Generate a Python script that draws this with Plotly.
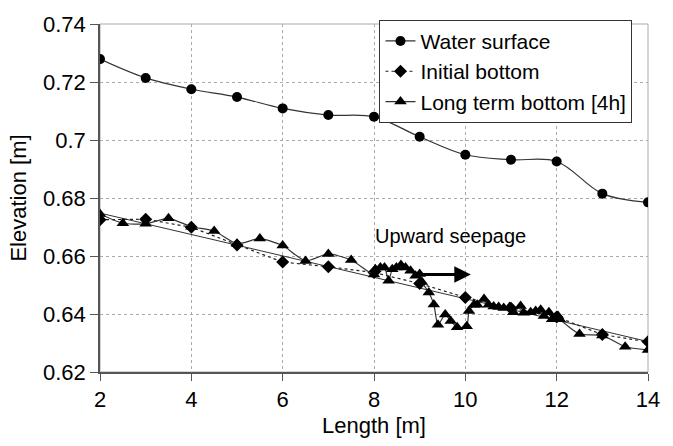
import plotly.graph_objects as go

# ---------------- data ----------------
ws_x = [2, 3, 4, 5, 6, 7, 8, 9, 10, 11, 12, 13, 14]
ws_y = [0.7279, 0.7214, 0.7175, 0.7148, 0.7109, 0.7086, 0.7080, 0.7011,
        0.6949, 0.6932, 0.6926, 0.6815, 0.6785]

ib_x = [2, 3, 4, 5, 6, 7, 8, 9, 10, 11, 12, 13, 14]
ib_y = [0.6725, 0.6727, 0.6699, 0.6638, 0.6579, 0.6563, 0.6543, 0.6505,
        0.6457, 0.6420, 0.6390, 0.6329, 0.6304]

lt_x = [2.0, 2.5, 3.0, 3.5, 4.0, 4.5, 5.0, 5.5, 6.0, 6.5, 7.0, 7.5,
        8.0, 8.03, 8.14, 8.23, 8.32, 8.4, 8.49, 8.59, 8.69, 8.8, 8.91,
        9.0, 9.05, 9.2, 9.31, 9.4, 9.56, 9.68, 9.82, 10.03, 10.08, 10.19,
        10.26, 10.41, 10.51, 10.62, 10.73, 10.84, 10.97, 11.05, 11.21,
        11.28, 11.43, 11.54, 11.65, 11.72, 11.83, 11.9, 12.03, 12.07,
        12.5, 13.0, 13.5, 14.0]
lt_y = [0.6745, 0.6713, 0.6711, 0.6730, 0.6701, 0.6686, 0.6642, 0.6660,
        0.6636, 0.6583, 0.6607, 0.6586,
        0.6536, 0.6554, 0.6560, 0.6560, 0.6515, 0.6554, 0.6560, 0.6569,
        0.6560, 0.6549, 0.6532,
        0.6538, 0.6510, 0.6474, 0.6433, 0.6363, 0.6398, 0.6376, 0.6354,
        0.6358, 0.6410, 0.6432,
        0.6432, 0.6452, 0.6432, 0.6426, 0.6424, 0.6421, 0.6424, 0.6406,
        0.6428, 0.6404, 0.6406, 0.6410, 0.6415, 0.6393, 0.6406, 0.6382,
        0.6393, 0.6382,
        0.6331, 0.6326, 0.6287, 0.6276]

trend_x = [2, 14]
trend_y = [0.6748, 0.6305]

x_ticks = [2, 4, 6, 8, 10, 12, 14]
x_labels = ["2", "4", "6", "8", "10", "12", "14"]
y_ticks = [0.62, 0.64, 0.66, 0.68, 0.70, 0.72, 0.74]
y_labels = ["0.62", "0.64", "0.66", "0.68", "0.7", "0.72", "0.74"]

arrow_x = [8.93, 10.12]
arrow_y = [0.6536, 0.6536]
note_x = 7.98
note_y = 0.6668

FONT = "Liberation Sans, Arial, sans-serif"

fig = go.Figure()

fig.add_trace(go.Scatter(
    x=trend_x, y=trend_y, mode="lines", showlegend=False,
    line=dict(color="#333333", width=1), hoverinfo="skip"))

fig.add_trace(go.Scatter(
    x=ws_x, y=ws_y, mode="lines+markers", name="Water surface",
    line=dict(color="#333333", width=1.2, shape="spline"),
    marker=dict(symbol="circle", size=10, color="black")))

fig.add_trace(go.Scatter(
    x=ib_x, y=ib_y, mode="lines+markers", name="Initial bottom",
    line=dict(color="#222222", width=1.2, dash="dot"),
    marker=dict(symbol="diamond", size=10, color="black")))

fig.add_trace(go.Scatter(
    x=lt_x, y=lt_y, mode="lines+markers", name="Long term bottom [4h]",
    line=dict(color="#333333", width=1.2, shape="spline", smoothing=0.6),
    marker=dict(symbol="triangle-up", size=11, color="black")))

fig.add_annotation(
    x=arrow_x[1], y=arrow_y[1], ax=arrow_x[0], ay=arrow_y[0],
    xref="x", yref="y", axref="x", ayref="y",
    showarrow=True, arrowhead=2, arrowsize=1.1, arrowwidth=3,
    arrowcolor="black", text="")

fig.add_annotation(
    x=note_x, y=note_y, xref="x", yref="y", text="Upward seepage",
    showarrow=False, xanchor="left", yanchor="middle",
    font=dict(family=FONT, size=20, color="black"))

# light plot-area border (top/right)
fig.add_shape(type="rect", xref="paper", yref="paper", x0=0, y0=0, x1=1, y1=1,
              line=dict(color="#aaaaaa", width=1), layer="below")

fig.update_layout(
    width=673, height=446,
    margin=dict(l=100, r=25, t=17, b=70),
    paper_bgcolor="white", plot_bgcolor="white",
    font=dict(family=FONT, size=22, color="black"),
    showlegend=True,
    legend=dict(x=0.51, y=1.012, xanchor="left", yanchor="top",
                bgcolor="white", bordercolor="#333333", borderwidth=1,
                font=dict(family=FONT, size=21, color="black"),
                itemwidth=30, tracegroupgap=0),
    xaxis=dict(range=[2, 14], tickvals=x_ticks, ticktext=x_labels,
               showgrid=True, gridcolor="#aaaaaa", griddash="dot", gridwidth=1,
               showline=True, linecolor="#555555", linewidth=1.5,
               ticks="outside", ticklen=7, tickcolor="#555555",
               zeroline=False,
               title=dict(text="Length [m]", standoff=6,
                          font=dict(family=FONT, size=22))),
    yaxis=dict(range=[0.62, 0.74], tickvals=y_ticks, ticktext=y_labels,
               showgrid=True, gridcolor="#aaaaaa", griddash="dot", gridwidth=1,
               showline=True, linecolor="#555555", linewidth=1.5,
               ticks="outside", ticklen=8, tickcolor="#555555",
               zeroline=False,
               title=dict(text="Elevation [m]", standoff=10,
                          font=dict(family=FONT, size=22))),
)

fig.write_html("out.html")
